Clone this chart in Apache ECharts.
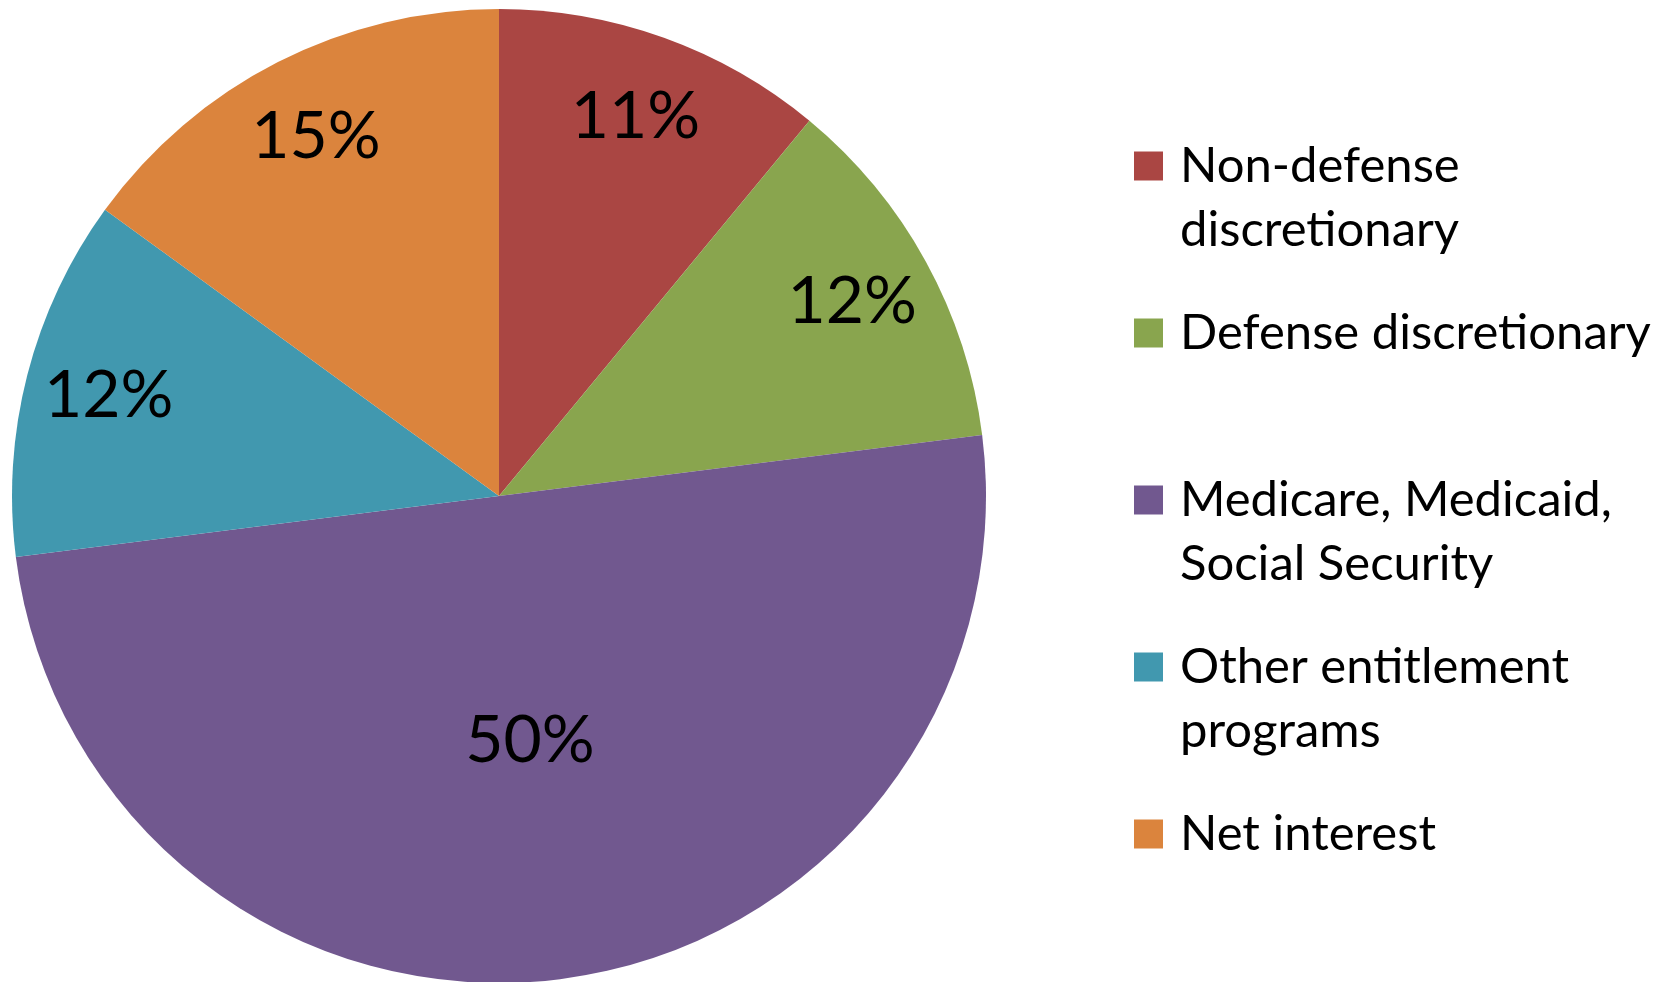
<!DOCTYPE html>
<html>
<head>
<meta charset="utf-8">
<script src="https://cdn.jsdelivr.net/npm/echarts@6/dist/echarts.min.js"></script>
<style>
  html, body { margin: 0; padding: 0; background: #fff; }
  #chart { width: 1669px; height: 982px; }
</style>
</head>
<body>
<div id="chart"></div>
<script>
const categories = [
  'Non-defense discretionary',
  'Defense discretionary',
  'Medicare, Medicaid, Social Security',
  'Other entitlement programs',
  'Net interest'
]
// legend text, split the way the reference wraps it
const legendLines = [
  ['Non-defense', 'discretionary'],
  ['Defense discretionary'],
  ['Medicare, Medicaid,', 'Social Security'],
  ['Other entitlement', 'programs'],
  ['Net interest']
]
const shares = [11, 12, 50, 12, 15]
const colors = ['#AA4643', '#89A54E', '#71588F', '#4198AF', '#DB843D']

const FONT = 'Lato'
const chart = echarts.init(document.getElementById('chart'))

// the big slice keeps its label near the middle, the small ones near the rim
const isBig = v => v >= 40

const labelStyle = {
  position: 'inside',
  fontFamily: FONT,
  fontSize: 66,
  color: '#000',
  formatter: '{c}%'
}

chart.setOption({
  animation: false,
  color: colors,
  legend: {
    orient: 'vertical',
    left: 1134,
    top: 70,
    padding: 0,
    itemWidth: 29,
    itemHeight: 29,
    itemGap: -25,
    icon: 'rect',
    selectedMode: false,
    data: categories,
    textStyle: {
      fontFamily: FONT, fontSize: 49, lineHeight: 64, color: '#000',
      padding: [0, 0, 0, 12]
    },
    formatter(name) {
      const lines = legendLines[categories.indexOf(name)]
      // blank line above so the marker sits on the first line
      return '\n' + lines[0] + '\n' + (lines[1] || '')
    }
  },
  series: [
    {
      type: 'pie',
      center: [499, 496],
      radius: 487,
      startAngle: 90,
      clockwise: true,
      silent: true,
      labelLine: { show: false },
      label: labelStyle,
      data: categories.map((name, i) => ({
        name, value: shares[i], label: { show: isBig(shares[i]) }
      }))
    },
    {
      // transparent ring that only carries the outer labels
      type: 'pie',
      center: [499, 496],
      radius: [313, 487],
      startAngle: 90,
      clockwise: true,
      silent: true,
      legendHoverLink: false,
      itemStyle: { color: 'rgba(0,0,0,0)' },
      labelLine: { show: false },
      label: labelStyle,
      data: categories.map((name, i) => ({
        name, value: shares[i], label: { show: !isBig(shares[i]) }
      }))
    }
  ]
})
</script>
</body>
</html>
